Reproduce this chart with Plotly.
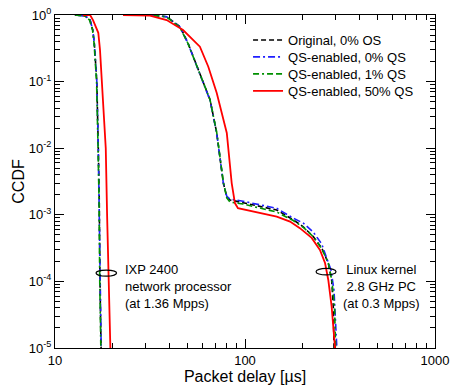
import plotly.graph_objects as go

# ---------------- data ----------------
# IXP 2400 network processor curves
ixp_orig_x = [12.7, 14.4, 15.3, 15.8, 16.1, 16.6, 16.9, 17.1, 17.25, 17.45, 17.5]
ixp_orig_y = [1.0, 0.966, 0.84, 0.595, 0.38, 0.1, 0.01, 0.0017, 1e-4, 1e-5, 8e-6]
ixp_qs0_x = [12.9, 14.5, 15.3, 15.8, 16.1, 16.6, 16.9, 17.1, 17.3, 17.5, 17.55]
ixp_qs0_y = [1.0, 0.96, 0.84, 0.6, 0.38, 0.1, 0.01, 0.0017, 1e-4, 1e-5, 8e-6]
ixp_qs1_x = [12.8, 14.4, 15.2, 15.75, 16.05, 16.55, 16.85, 17.05, 17.2, 17.4, 17.45]
ixp_qs1_y = [1.0, 0.96, 0.84, 0.6, 0.38, 0.1, 0.01, 0.0017, 1e-4, 1e-5, 8e-6]
ixp_qs50_x = [14.0, 15.3, 15.85, 16.9, 17.25, 17.6, 18.5, 18.8, 19.1, 19.5, 19.6]
ixp_qs50_y = [1.0, 1.0, 0.84, 0.54, 0.3, 0.1, 0.01, 1e-3, 1e-4, 1e-5, 8e-6]

# Linux kernel 2.8 GHz PC curves
lin_orig_x = [24.8, 31.6, 38.7, 45.5, 50.1, 57.9, 65.5, 71.0, 73.8, 76.9, 80.2, 83.4,
              97.6, 120, 146.9, 179.5, 202.7, 228.7, 253.3, 274.4, 285.8, 291.6, 294, 294.5]
lin_orig_y = [1.0, 1.0, 0.943, 0.667, 0.38, 0.135, 0.053, 0.0169, 0.00665, 0.0030, 0.00187, 0.00167,
              0.00152, 0.00132, 0.00118, 0.00084, 0.00066, 0.00047, 0.000318, 0.000189, 0.000105, 4.17e-5, 1e-5, 8e-6]
lin_qs0_x = [25.5, 32.0, 38.7, 45.5, 50.1, 57.9, 65.5, 71.0, 73.8, 76.9, 80.2, 83.4,
             97.6, 120, 146.9, 179.5, 202.7, 228.7, 253.3, 269, 283.6, 294, 300, 305, 305.5]
lin_qs0_y = [1.0, 1.0, 0.94, 0.66, 0.375, 0.133, 0.052, 0.0165, 0.0066, 0.0030, 0.0019, 0.00172,
             0.00160, 0.00140, 0.00125, 0.00089, 0.00075, 0.00055, 0.000365, 0.000225, 0.000148, 7.4e-5, 2.6e-5, 1e-5, 8e-6]
lin_qs1_x = [25.0, 31.8, 38.5, 45.3, 50.0, 57.8, 65.4, 71.0, 73.8, 76.9, 80.2, 83.4,
             97.6, 120, 146.9, 179.5, 202.7, 228.7, 253.3, 274.4, 287, 296, 300, 300.5]
lin_qs1_y = [1.0, 1.0, 0.94, 0.66, 0.38, 0.136, 0.054, 0.0172, 0.0068, 0.0031, 0.0018, 0.00155,
             0.00145, 0.00125, 0.00110, 0.00082, 0.00065, 0.00047, 0.00031, 0.00019, 0.0001, 4e-5, 1e-5, 8e-6]
lin_qs50_x = [22.8, 31.6, 38.7, 47.2, 57.9, 64.1, 71.0, 80.2, 85.1, 88.5, 91.8, 120, 146.9,
              172.6, 194.5, 224.4, 248, 263.8, 274.4, 285.8, 294, 297.6, 298]
lin_qs50_y = [1.0, 0.98, 0.84, 0.595, 0.334, 0.167, 0.0675, 0.0169, 0.0030, 0.0015, 0.00126, 0.00106, 0.00094,
              0.00079, 0.00063, 0.00045, 0.000296, 0.000189, 0.000105, 4.17e-5, 1.86e-5, 1.02e-5, 8e-6]

series_names = ["Original, 0% OS", "QS-enabled, 0% QS", "QS-enabled, 1% QS", "QS-enabled, 50% QS"]
series_colors = ["#000000", "#1f1fff", "#009000", "#ff0000"]
series_dash = ["5px,3px", "7px,3px,2px,3px", "6px,3px,2px,3px,6px,3px", "solid"]

x_tickvals = [10, 100, 1000]
x_ticktext = ["10", "100", "1000"]
x_minor = [20, 30, 40, 50, 60, 70, 80, 90, 200, 300, 400, 500, 600, 700, 800, 900]
y_tickvals = [1, 0.1, 0.01, 0.001, 1e-4, 1e-5]
y_ticktext = ["10<sup>0</sup>", "10<sup>-1</sup>", "10<sup>-2</sup>", "10<sup>-3</sup>",
              "10<sup>-4</sup>", "10<sup>-5</sup>"]
y_minor = [m * 10.0 ** e for e in range(-5, 0) for m in range(2, 10)]

# ---------------- figure ----------------
def join(a, b):
    return a + [None] + b

xs = [join(ixp_orig_x, lin_orig_x), join(ixp_qs0_x, lin_qs0_x),
      join(ixp_qs1_x, lin_qs1_x), join(ixp_qs50_x, lin_qs50_x)]
ys = [join(ixp_orig_y, lin_orig_y), join(ixp_qs0_y, lin_qs0_y),
      join(ixp_qs1_y, lin_qs1_y), join(ixp_qs50_y, lin_qs50_y)]

legend_ids = ["legend", "legend2", "legend3", "legend4"]
legend_y = [0.925, 0.874, 0.823, 0.772]

FONT = "Liberation Sans, Arial, Helvetica, sans-serif"

fig = go.Figure()
for i in range(4):
    fig.add_trace(go.Scatter(
        x=xs[i], y=ys[i], mode="lines", name=series_names[i],
        connectgaps=False, legend=legend_ids[i],
        line=dict(color=series_colors[i], dash=series_dash[i], width=1.6 if i < 3 else 1.8),
    ))

axis_common = dict(
    type="log", showgrid=False, zeroline=False, automargin=False,
    showline=True, linecolor="black", linewidth=1.2, mirror="allticks",
    ticks="inside", ticklen=9, tickwidth=1, tickcolor="black",
    tickfont=dict(family=FONT, size=13, color="black"),
    ticklabeloverflow="allow",
    layer="below traces",
)

fig.update_xaxes(
    **axis_common, range=[1, 3], tickvals=x_tickvals, ticktext=x_ticktext,
    minor=dict(tickvals=x_minor, ticks="inside", ticklen=5, tickwidth=1, tickcolor="black", showgrid=False),
    title=dict(text="Packet delay [µs]", font=dict(family=FONT, size=16, color="black"), standoff=1),
)
fig.update_yaxes(
    **axis_common, range=[-5, 0], tickvals=y_tickvals, ticktext=y_ticktext,
    minor=dict(tickvals=y_minor, ticks="inside", ticklen=5, tickwidth=1, tickcolor="black", showgrid=False),
    title=dict(text="CCDF", font=dict(family=FONT, size=16, color="black"), standoff=0),
)

# annotations
fig.add_annotation(
    x=1.358, y=-4.08, xref="x", yref="y", xanchor="left", yanchor="middle",
    text="IXP 2400<br>network processor<br>(at 1.36 Mpps)", showarrow=False, align="left",
    font=dict(family=FONT, size=13, color="black"),
)
fig.add_annotation(
    x=2.716, y=-4.08, xref="x", yref="y", xanchor="center", yanchor="middle",
    text="Linux kernel<br>2.8 GHz PC<br>(at 0.3 Mpps)", showarrow=False, align="center",
    font=dict(family=FONT, size=13, color="black"),
)
fig.add_shape(type="circle", xref="x", yref="y", x0=16.44, x1=21.09, y0=1.20e-4, y1=1.48e-4,
              line=dict(color="black", width=1.2))
fig.add_shape(type="circle", xref="x", yref="y", x0=236.6, x1=301.4, y0=1.25e-4, y1=1.57e-4,
              line=dict(color="black", width=1.2))

legend_common = dict(xanchor="left", yanchor="middle", bgcolor="rgba(255,255,255,0)",
                     borderwidth=0, font=dict(family=FONT, size=13, color="black"),
                     itemwidth=30)
layout_legends = {legend_ids[i]: dict(x=0.508, y=legend_y[i], **legend_common) for i in range(4)}

fig.update_layout(
    width=451, height=385,
    margin=dict(l=55, r=16, t=15, b=37),
    paper_bgcolor="white", plot_bgcolor="white",
    font=dict(family=FONT, size=13, color="black"),
    showlegend=True,
    **layout_legends,
)

# remove the default 8px page margin so the 451x385 figure fills the window exactly
fig.write_html(
    "out.html",
    config={"displayModeBar": False},
    post_script="document.body.style.margin='0';document.body.style.overflow='hidden';",
)
